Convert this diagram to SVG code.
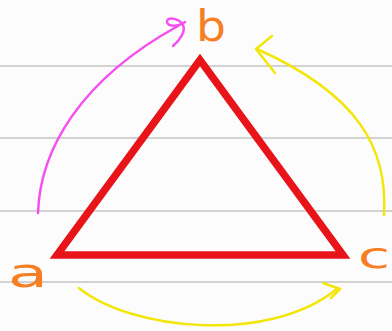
<svg xmlns="http://www.w3.org/2000/svg" width="392" height="331" viewBox="0 0 392 331">
<style>
.rule{stroke:#d2d2d2;stroke-width:2}
.pink{fill:none;stroke:#f64ff0;stroke-width:2.5;stroke-linecap:round;stroke-linejoin:round}
.yel{fill:none;stroke:#f3e60a;stroke-width:2.5;stroke-linecap:round;stroke-linejoin:round}
.lbl{font-family:"DejaVu Sans","Liberation Sans",sans-serif;fill:#f77f23}
</style>
<rect width="392" height="331" fill="#fcfcfc"/>
<g id="rules">
<line class="rule" x1="0" y1="66" x2="392" y2="66"/>
<line class="rule" x1="0" y1="138" x2="392" y2="138"/>
<line class="rule" x1="0" y1="211" x2="392" y2="211"/>
<line class="rule" x1="0" y1="282" x2="392" y2="282"/>
</g>
<g id="triangle">
<polygon points="200,60 57,255 343,255" fill="none" stroke="#e8141a" stroke-width="7.5" stroke-linejoin="miter"/>
</g>
<g id="connectors">
<path class="pink" d="M38,213 C40,150 80,80 178,26"/>
<path class="pink" d="M173,46 C180,40 186,31 183,25 C180,19 168,16 167,21 C166,27 178,27 185,22"/>
<path class="yel" d="M384,215 C388,150 360,95 257,49"/>
<path class="yel" d="M272,36 L256,49 L275,73"/>
<path class="yel" d="M79,288 C130,330 270,345 338,288"/>
<path class="yel" d="M323,283 L340,289 L331,298"/>
</g>
<g id="label-a"><text class="lbl" x="8" y="287" font-size="40" textLength="40" lengthAdjust="spacingAndGlyphs">a</text></g>
<g id="label-b"><text class="lbl" x="196" y="41" font-size="42" textLength="30" lengthAdjust="spacingAndGlyphs">b</text></g>
<g id="label-c"><text class="lbl" x="358" y="268" font-size="36" textLength="32" lengthAdjust="spacingAndGlyphs">c</text></g>
</svg>
